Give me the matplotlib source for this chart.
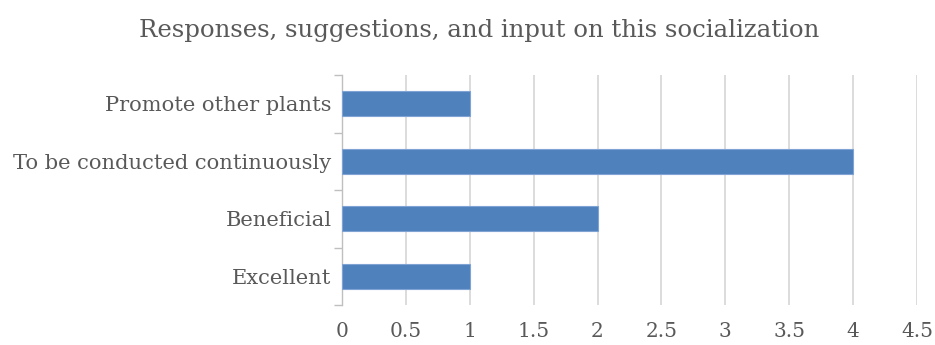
import matplotlib
matplotlib.use("Agg")
import matplotlib.pyplot as plt
import numpy as np

categories = ["Excellent", "Beneficial", "To be conducted continuously", "Promote other plants"]
values = [1, 2, 4, 1]
xticks = [0, 0.5, 1, 1.5, 2, 2.5, 3, 3.5, 4, 4.5]
xticklabels = ["0", "0.5", "1", "1.5", "2", "2.5", "3", "3.5", "4", "4.5"]
title = "Responses, suggestions, and input on this socialization"

plt.rcParams['font.family'] = ['DejaVu Serif']

fig = plt.figure(figsize=(9.35, 3.45), dpi=100)
ax = fig.add_axes([342/935, 1-305/345, (917-342)/935, (305-75)/345])

y = np.arange(len(categories))
ax.barh(y, values, height=0.44, color="#4F81BD", edgecolor="#7FA3D3", linewidth=0.8, zorder=3)
ax.set_xlim(0, 4.5)
ax.set_ylim(-0.5, len(categories) - 0.5)
ax.set_xticks(xticks)
ax.set_xticklabels(xticklabels)
ax.set_yticks(y)
ax.set_yticklabels(categories)
ax.set_yticks(np.arange(-0.5, len(categories), 1), minor=True)

ax.grid(axis='x', color="#D9D9D9", linewidth=1.3, zorder=0)
for s in ["top", "right", "bottom"]:
    ax.spines[s].set_visible(False)
ax.spines["left"].set_color("#BFBFBF")
ax.spines["left"].set_linewidth(1.0)

ax.tick_params(axis='x', length=0, labelsize=14.5, labelcolor="#595959", pad=12)
ax.tick_params(axis='y', which='major', length=0, labelsize=15.1, labelcolor="#595959", pad=7.5)
ax.tick_params(axis='y', which='minor', length=6, color="#BFBFBF", width=1.0)

fig.text(479/935, 1-30/345, title, ha='center', va='center', fontsize=17.6, color="#595959")

fig.savefig("out.png", dpi=100)
